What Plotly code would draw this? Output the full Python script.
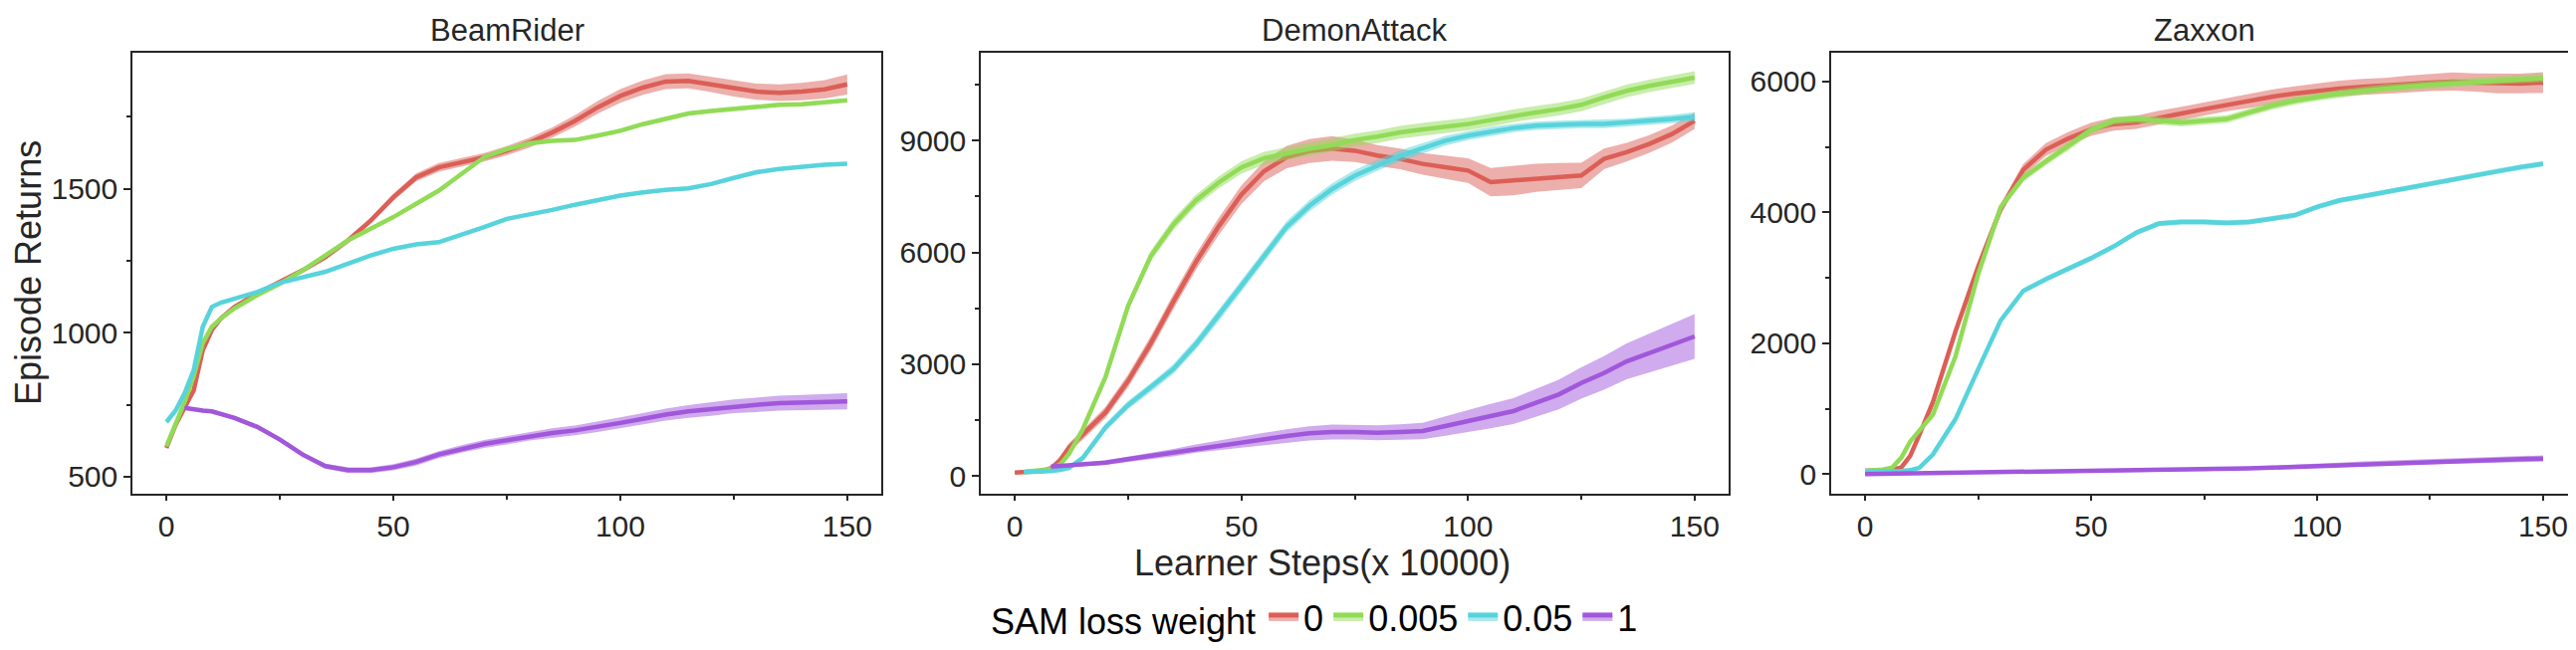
import plotly.graph_objects as go
from plotly.subplots import make_subplots

# learner steps (x 10000) at which the curves were read
steps = [0, 2, 4, 6, 8, 10, 12, 15, 20, 25, 30, 35, 40, 45, 50, 55, 60, 65, 70,
         75, 80, 85, 90, 95, 100, 105, 110, 115, 120, 125, 130, 135, 140, 145, 150]

games = ["BeamRider", "DemonAttack", "Zaxxon"]
weights = ["0", "0.005", "0.05", "1"]
colors = ["#db5f57", "#91db57", "#57d3db", "#a157db"]
bands = ["rgba(219,95,87,0.5)", "rgba(145,219,87,0.5)",
         "rgba(87,211,219,0.5)", "rgba(161,87,219,0.5)"]

# BeamRider mean returns
beam_w0 = [600, 680, 740, 800, 940, 1010, 1050, 1090, 1137, 1177, 1217, 1263, 1321, 1390,
           1471, 1540, 1575, 1592, 1610, 1633, 1661, 1696, 1736, 1783, 1823, 1852, 1873,
           1875, 1863, 1849, 1838, 1834, 1838, 1846, 1863]
beam_w0005 = [606, 680, 760, 850, 964, 1021, 1050, 1085, 1131, 1171, 1217, 1269, 1321, 1362,
              1402, 1448, 1494, 1552, 1610, 1638, 1658, 1667, 1670, 1685, 1702, 1725, 1742,
              1762, 1771, 1779, 1785, 1792, 1794, 1800, 1808]
beam_w005 = [690, 730, 790, 870, 1021, 1090, 1105, 1119, 1142, 1174, 1194, 1212, 1240, 1269,
             1292, 1307, 1315, 1339, 1367, 1396, 1411, 1427, 1445, 1462, 1477, 1488, 1497,
             1502, 1517, 1538, 1558, 1569, 1577, 1584, 1587]
beam_w1 = [None, None, 739, 733, 730, 727, 718, 704, 673, 629, 577, 537, 523, 523, 533, 551,
           577, 597, 614, 627, 641, 652, 661, 673, 687, 701, 716, 727, 735, 745, 750, 756,
           758, 760, 762]
# BeamRider band half widths
beam_w0_sd = [5, 5, 5, 6, 6, 7, 7, 8, 8, 8, 9, 9, 10, 10, 12, 14, 15, 15, 15, 16, 17, 18, 20,
              22, 24, 25, 26, 26, 27, 28, 28, 29, 30, 32, 35]
beam_w0005_sd = [4, 4, 4, 4, 5, 5, 5, 5, 5, 5, 5, 6, 6, 6, 6, 6, 6, 6, 6, 6, 6, 6, 6, 6, 7, 7,
                 7, 7, 7, 7, 7, 7, 7, 7, 7]
beam_w005_sd = [4, 4, 4, 4, 4, 4, 4, 4, 4, 4, 4, 4, 4, 4, 4, 4, 4, 4, 4, 4, 4, 4, 4, 4, 5, 5,
                5, 5, 5, 5, 5, 5, 5, 5, 5]
beam_w1_sd = [None, None, 6, 6, 6, 6, 6, 7, 7, 8, 8, 9, 10, 10, 11, 12, 12, 13, 14, 15, 15,
              16, 17, 18, 19, 20, 21, 22, 23, 24, 25, 26, 26, 27, 28]

# DemonAttack mean returns
demon_w0 = [89, 100, 115, 130, 200, 420, 760, 1100, 1700, 2550, 3560, 4680, 5750, 6700, 7550,
            8180, 8560, 8720, 8790, 8730, 8599, 8510, 8376, 8287, 8198, 7886, 7931, 8002,
            8038, 8064, 8510, 8688, 8911, 9178, 9535]
demon_w0005 = [None, 110, 125, 140, 180, 300, 600, 1250, 2650, 4560, 5900, 6750, 7400, 7880,
               8280, 8530, 8660, 8780, 8880, 9018, 9107, 9223, 9303, 9374, 9446, 9553, 9668,
               9758, 9847, 9962, 10159, 10337, 10471, 10586, 10693]
demon_w005 = [None, 100, 100, 110, 130, 160, 220, 480, 1300, 1900, 2370, 2870, 3540, 4300,
              5100, 5900, 6690, 7250, 7700, 8060, 8340, 8590, 8800, 9000, 9134, 9250, 9339,
              9401, 9428, 9446, 9446, 9481, 9535, 9580, 9642]
demon_w1 = [None, None, None, None, 250, 267, 285, 303, 356, 446, 535, 624, 731, 820, 909,
            998, 1069, 1141, 1176, 1176, 1158, 1176, 1203, 1337, 1470, 1604, 1738, 1960,
            2183, 2495, 2762, 3074, 3297, 3520, 3743]
# DemonAttack band half widths
demon_w0_sd = [40, 50, 50, 60, 80, 100, 120, 130, 150, 170, 190, 200, 210, 230, 250, 270,
               300, 320, 330, 300, 280, 280, 290, 300, 330, 380, 400, 380, 360, 340, 280, 250,
               240, 230, 220]
demon_w0005_sd = [None, 40, 40, 40, 60, 80, 100, 110, 120, 130, 140, 150, 150, 160, 170, 170,
                  170, 170, 170, 170, 170, 170, 170, 170, 170, 170, 170, 170, 170, 170, 170,
                  170, 170, 170, 170]
demon_w005_sd = [None, 30, 30, 30, 40, 50, 60, 80, 100, 110, 120, 130, 140, 150, 150, 150,
                 150, 150, 150, 150, 150, 150, 140, 130, 120, 120, 110, 110, 110, 110, 110,
                 110, 110, 110, 120]
demon_w1_sd = [None, None, None, None, 40, 40, 40, 50, 60, 70, 80, 100, 110, 130, 150, 160,
               180, 190, 200, 200, 200, 210, 220, 260, 300, 330, 350, 380, 400, 420, 450,
               480, 520, 560, 600]

# Zaxxon mean returns
zax_w0 = [51, 55, 58, 70, 101, 280, 600, 1100, 2180, 3170, 4050, 4650, 4960, 5130, 5270,
          5350, 5376, 5452, 5513, 5579, 5645, 5706, 5767, 5817, 5858, 5894, 5919, 5934,
          5959, 5985, 6000, 5985, 5970, 5970, 5985]
zax_w0005 = [51, 60, 70, 100, 250, 500, 670, 910, 1800, 3050, 4080, 4530, 4780, 5010, 5260,
             5400, 5427, 5402, 5376, 5402, 5427, 5529, 5630, 5706, 5767, 5817, 5858, 5899,
             5924, 5950, 5970, 6000, 6021, 6041, 6051]
zax_w005 = [40, 40, 40, 42, 45, 60, 95, 300, 840, 1600, 2350, 2800, 2980, 3140, 3300, 3480,
            3690, 3830, 3855, 3855, 3840, 3855, 3905, 3956, 4083, 4184, 4245, 4311, 4377,
            4438, 4499, 4565, 4631, 4692, 4742]
zax_w1 = [0, 2, 3, 5, 6, 8, 10, 12, 16, 20, 24, 28, 32, 36, 45, 50, 55, 60, 66, 72, 80, 88,
          98, 110, 125, 140, 160, 170, 180, 190, 203, 210, 218, 228, 238]
# Zaxxon band half widths
zax_w0_sd = [10, 10, 10, 15, 20, 30, 40, 50, 60, 70, 80, 90, 100, 100, 100, 100, 100, 100,
             100, 100, 100, 110, 110, 110, 110, 120, 120, 120, 130, 130, 140, 140, 150, 150,
             160]
zax_w0005_sd = [10, 10, 10, 15, 20, 30, 40, 40, 50, 50, 60, 60, 60, 60, 60, 60, 60, 60, 60,
                60, 60, 60, 60, 60, 60, 60, 60, 60, 60, 60, 60, 60, 60, 60, 60]
zax_w005_sd = [10, 10, 10, 10, 10, 15, 15, 20, 25, 30, 35, 40, 40, 40, 40, 40, 40, 40, 40,
               40, 40, 40, 40, 40, 40, 40, 40, 40, 40, 40, 40, 40, 40, 40, 40]
zax_w1_sd = [10, 10, 10, 10, 10, 12, 12, 14, 15, 16, 18, 18, 20, 20, 22, 22, 24, 24, 26, 26,
             28, 28, 30, 30, 32, 34, 35, 36, 38, 40, 42, 44, 45, 46, 48]

means = [[beam_w0, beam_w0005, beam_w005, beam_w1],
         [demon_w0, demon_w0005, demon_w005, demon_w1],
         [zax_w0, zax_w0005, zax_w005, zax_w1]]
spreads = [[beam_w0_sd, beam_w0005_sd, beam_w005_sd, beam_w1_sd],
           [demon_w0_sd, demon_w0005_sd, demon_w005_sd, demon_w1_sd],
           [zax_w0_sd, zax_w0005_sd, zax_w005_sd, zax_w1_sd]]

y_ranges = [[441, 1973], [-480, 11360], [-300, 6440]]
y_dticks = [500, 3000, 2000]

W, H = 2587, 653
x_domains = [[125 / W, 877 / W], [977 / W, 1728 / W], [1831 / W, 2580 / W]]
y_domain = [1 - 488 / H, 1 - 45 / H]

FONT = "Liberation Sans, Arial, sans-serif"
INK = "#262626"

fig = make_subplots(rows=1, cols=3)

for g in range(3):
    for k in range(4):
        pts = [(x, m, s) for x, m, s in zip(steps, means[g][k], spreads[g][k]) if m is not None]
        xs = [p[0] for p in pts]
        ys = [p[1] for p in pts]
        upper = [p[1] + p[2] for p in pts]
        lower = [p[1] - p[2] for p in pts]
        fig.add_trace(go.Scatter(
            x=xs + xs[::-1], y=upper + lower[::-1], fill="toself",
            fillcolor=bands[k], line=dict(width=0), mode="lines",
            hoverinfo="skip", showlegend=False), row=1, col=g + 1)
        fig.add_trace(go.Scatter(
            x=xs, y=ys, mode="lines", line=dict(color=colors[k], width=4.5),
            name=weights[k], legendgroup=weights[k], showlegend=False),
            row=1, col=g + 1)

# legend entries: line over a lighter band, like the seaborn handles
for k in range(4):
    fig.add_trace(go.Scatter(
        x=[None], y=[None], mode="lines", fill="toself", fillcolor=bands[k],
        line=dict(color=colors[k], width=5),
        name=weights[k], legendgroup=weights[k], showlegend=True), row=1, col=1)

for g in range(3):
    fig.update_xaxes(
        domain=x_domains[g], range=[-7.5, 157.5], tick0=0, dtick=50,
        minor=dict(ticks="outside", ticklen=4, tickwidth=1.5, tickcolor=INK, dtick=25),
        row=1, col=g + 1)
    fig.update_yaxes(
        domain=y_domain, range=y_ranges[g], tick0=0, dtick=y_dticks[g],
        minor=dict(ticks="outside", ticklen=4, tickwidth=1.5, tickcolor=INK,
                   dtick=y_dticks[g] / 2),
        row=1, col=g + 1)

fig.update_xaxes(showline=True, mirror=True, linecolor=INK, linewidth=1.5,
                 ticks="outside", ticklen=5, tickwidth=1.5, tickcolor=INK,
                 showgrid=False, zeroline=False, tickformat="d",
                 tickfont=dict(family=FONT, size=30, color=INK))
fig.update_yaxes(showline=True, mirror=True, linecolor=INK, linewidth=1.5,
                 ticks="outside", ticklen=7, tickwidth=1.5, tickcolor=INK,
                 showgrid=False, zeroline=False, tickformat="d",
                 tickfont=dict(family=FONT, size=30, color=INK))

annotations = []
for g in range(3):
    annotations.append(dict(
        text=games[g], x=sum(x_domains[g]) / 2, y=1 - 23 / H, xref="paper", yref="paper",
        xanchor="center", yanchor="middle", showarrow=False,
        font=dict(family=FONT, size=31, color=INK)))
annotations.append(dict(
    text="Episode Returns", x=20 / W, y=1 - 266 / H, xref="paper", yref="paper",
    xanchor="center", yanchor="middle", textangle=-90, showarrow=False,
    font=dict(family=FONT, size=36, color=INK)))
annotations.append(dict(
    text="Learner Steps(x 10000)", x=1320 / W, y=1 - 557 / H, xref="paper", yref="paper",
    xanchor="center", yanchor="middle", showarrow=False,
    font=dict(family=FONT, size=36, color=INK)))

fig.update_layout(
    width=W, height=H, autosize=False,
    margin=dict(l=0, r=0, t=0, b=0),
    paper_bgcolor="white", plot_bgcolor="white",
    annotations=annotations,
    legend=dict(orientation="h", x=985 / W, y=1 - 612 / H, xanchor="left",
                yanchor="middle", font=dict(family=FONT, size=36, color="black"),
                title=dict(text="SAM loss weight", side="left",
                           font=dict(family=FONT, size=36, color="black")),
                itemwidth=30, tracegroupgap=0, bgcolor="rgba(0,0,0,0)"),
)

fig.write_html("out.html")
